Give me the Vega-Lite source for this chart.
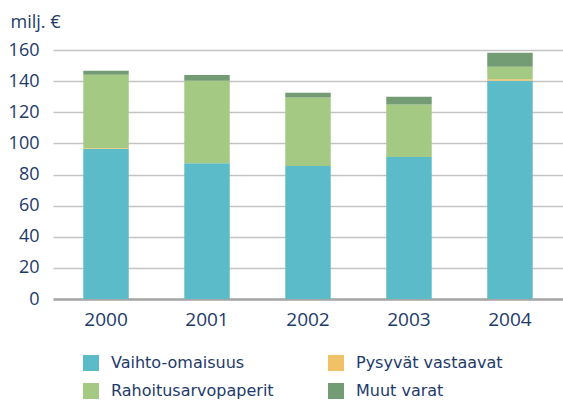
{
  "$schema": "https://vega.github.io/schema/vega-lite/v6.json",
  "width": 510,
  "height": 249,
  "autosize": {"type": "none"},
  "padding": {"left": 53, "top": 50, "right": 0, "bottom": 103},
  "background": "white",
  "config": {
    "view": {"stroke": null},
    "font": "Open Sans",
    "axis": {"labelFont": "Open Sans", "titleFont": "Open Sans"}
  },
  "data": {
    "values": [
      {"year": "2000", "type": "Vaihto-omaisuus", "ord": 1, "value": 96.5},
      {"year": "2000", "type": "Pysyvät vastaavat", "ord": 2, "value": 0.6},
      {"year": "2000", "type": "Rahoitusarvopaperit", "ord": 3, "value": 47},
      {"year": "2000", "type": "Muut varat", "ord": 4, "value": 2.5},
      {"year": "2001", "type": "Vaihto-omaisuus", "ord": 1, "value": 87.3},
      {"year": "2001", "type": "Pysyvät vastaavat", "ord": 2, "value": 0},
      {"year": "2001", "type": "Rahoitusarvopaperit", "ord": 3, "value": 52.9},
      {"year": "2001", "type": "Muut varat", "ord": 4, "value": 3.8},
      {"year": "2002", "type": "Vaihto-omaisuus", "ord": 1, "value": 85.4},
      {"year": "2002", "type": "Pysyvät vastaavat", "ord": 2, "value": 0},
      {"year": "2002", "type": "Rahoitusarvopaperit", "ord": 3, "value": 44},
      {"year": "2002", "type": "Muut varat", "ord": 4, "value": 3.2},
      {"year": "2003", "type": "Vaihto-omaisuus", "ord": 1, "value": 91.2},
      {"year": "2003", "type": "Pysyvät vastaavat", "ord": 2, "value": 0},
      {"year": "2003", "type": "Rahoitusarvopaperit", "ord": 3, "value": 33.8},
      {"year": "2003", "type": "Muut varat", "ord": 4, "value": 5},
      {"year": "2004", "type": "Vaihto-omaisuus", "ord": 1, "value": 140.2},
      {"year": "2004", "type": "Pysyvät vastaavat", "ord": 2, "value": 1},
      {"year": "2004", "type": "Rahoitusarvopaperit", "ord": 3, "value": 8},
      {"year": "2004", "type": "Muut varat", "ord": 4, "value": 9}
    ]
  },
  "mark": {"type": "bar"},
  "encoding": {
    "x": {
      "field": "year",
      "type": "ordinal",
      "scale": {"paddingInner": 0.55, "paddingOuter": 0.3},
      "axis": {
        "title": null,
        "labelAngle": 0,
        "labelFontSize": 19,
        "labelColor": "#1d3a6b",
        "labelPadding": 11,
        "ticks": false,
        "domainColor": "#a6a6a6",
        "domainWidth": 2.5
      }
    },
    "y": {
      "field": "value",
      "type": "quantitative",
      "aggregate": "sum",
      "stack": "zero",
      "scale": {"domain": [0, 160], "nice": false},
      "axis": {
        "values": [0, 20, 40, 60, 80, 100, 120, 140, 160],
        "title": "milj. €",
        "titleAngle": 0,
        "titleAlign": "left",
        "titleBaseline": "alphabetic",
        "titleX": -43,
        "titleY": -23,
        "titleFontSize": 18,
        "titleFontWeight": "normal",
        "titleColor": "#1d3a6b",
        "labelFontSize": 18,
        "labelColor": "#1d3a6b",
        "labelPadding": 14,
        "ticks": false,
        "domain": false,
        "gridColor": "#c4c4c4",
        "gridWidth": 1.5
      }
    },
    "color": {
      "field": "type",
      "type": "nominal",
      "scale": {
        "domain": ["Vaihto-omaisuus", "Rahoitusarvopaperit", "Pysyvät vastaavat", "Muut varat"],
        "range": ["#5bbbc9", "#a3c983", "#f1c265", "#739c75"]
      },
      "legend": {
        "title": null,
        "orient": "none",
        "legendX": 30,
        "legendY": 305,
        "columns": 2,
        "columnPadding": 54,
        "rowPadding": 12,
        "symbolType": "square",
        "symbolSize": 256,
        "symbolStrokeWidth": 0,
        "labelFont": "DejaVu Sans",
        "labelFontSize": 16,
        "labelColor": "#1d3a6b",
        "labelOffset": 12,
        "labelLimit": 300
      }
    },
    "order": {"field": "ord", "type": "quantitative"}
  }
}
